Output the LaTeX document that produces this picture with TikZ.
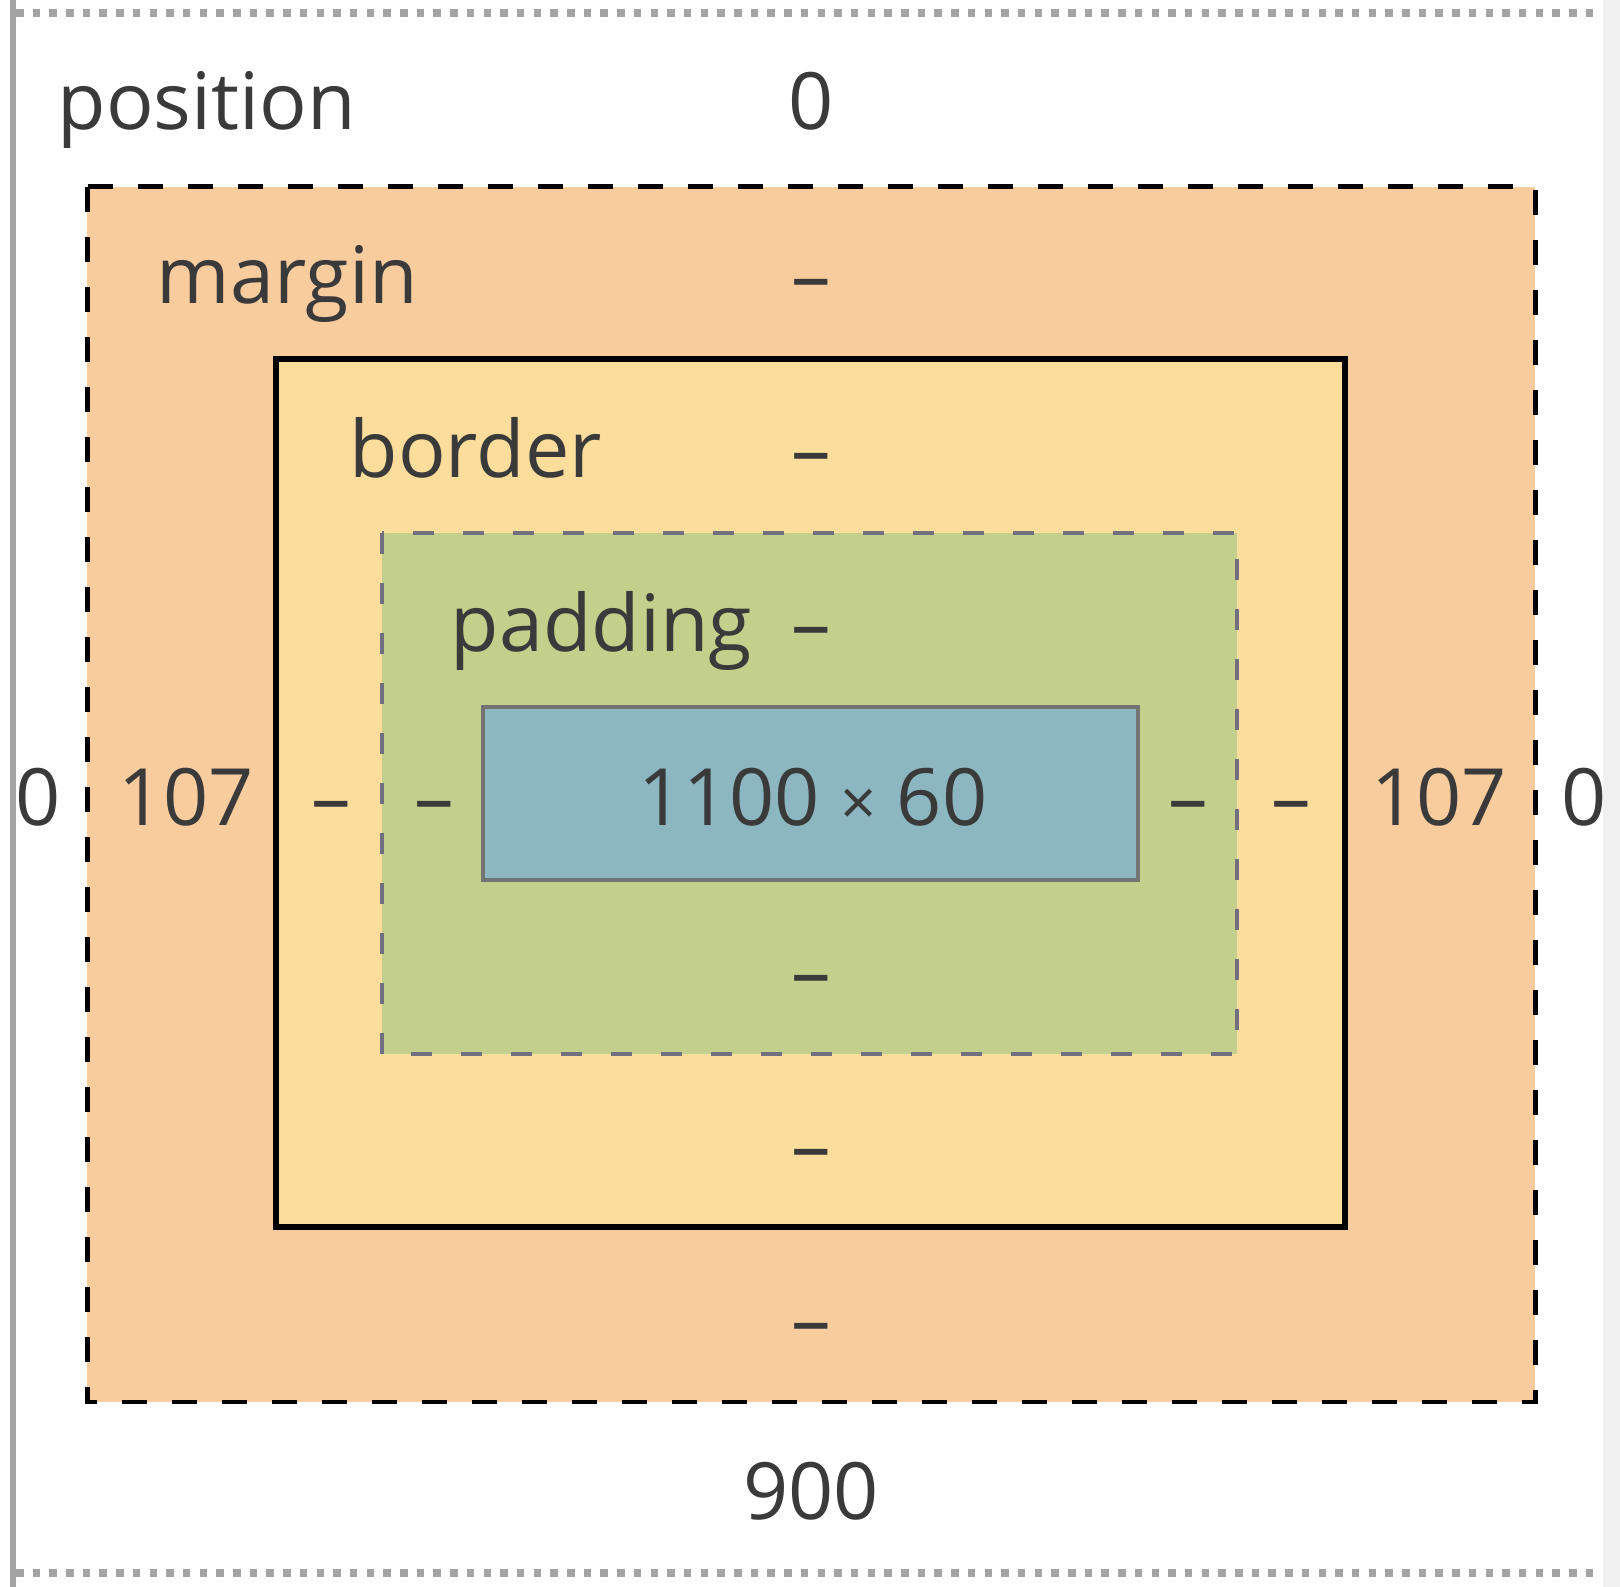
\documentclass[tikz,border=0pt]{standalone}
\usepackage{fontspec}
\setmainfont{Open Sans}
\definecolor{marginfill}{HTML}{F9CC9D}
\definecolor{borderfill}{HTML}{FCDD9B}
\definecolor{paddingfill}{HTML}{C3D08B}
\definecolor{contentfill}{HTML}{8CB6C0}
\definecolor{padline}{HTML}{707080}
\definecolor{txtgray}{HTML}{3A3A3A}
\definecolor{rulegray}{HTML}{A4A4A4}
\begin{document}
\begin{tikzpicture}[x=0.1mm, y=-0.1mm,
    lbl/.style={inner sep=0pt, text=txtgray, font=\fontsize{22.5}{27}\selectfont, anchor=base},
    lblw/.style={lbl, anchor=base west},
    dotrule/.style={rulegray, line width=0.75mm, dash pattern=on 0.75mm off 0.92mm}]
\useasboundingbox (0,0) rectangle (1620,1587);

    % frame of the panel
    \fill[black!6] (1603,0) rectangle (1620,1587);
    \draw[rulegray, line width=0.6mm] (13,0) -- (13,1587);
    \draw[dotrule] (16,13) -- (1598,13);
    \draw[dotrule] (16,1573) -- (1598,1573);

    % the four boxes
    \filldraw[color=black, fill=marginfill, line width=0.5mm, dash pattern=on 2.5mm off 2.5mm] (87,187) rectangle (1535,1402);
    \filldraw[color=black, fill=borderfill, line width=0.6mm] (276,359) rectangle (1345,1227);
    \filldraw[color=padline, fill=paddingfill, line width=0.4mm, dash pattern=on 2.1mm off 2.9mm] (382,533) rectangle (1237,1054);
    \filldraw[color=black!55, fill=contentfill, line width=0.4mm] (483,707) rectangle (1138,880);

    \node[lblw] (pos) at (57,130) {position};
    \node[lbl] (postop) at (811,130) {0};
    \node[lblw] (mar) at (156,304) {margin};
    \node[lbl] (martop) at (811,304) {–};
    \node[lblw] (bor) at (349,478) {border};
    \node[lbl] (bortop) at (811,478) {–};
    \node[lblw] (pad) at (450,652) {padding};
    \node[lbl] (padtop) at (811,652) {–};

    \node[lbl] (posleft) at (38,826) {0};
    \node[lbl] (marleft) at (186,826) {107};
    \node[lbl] (borleft) at (331,826) {–};
    \node[lbl] (padleft) at (434,826) {–};
    \node[lbl] (size) at (813,826) {1100 {\fontsize{18}{20}\selectfont ×} 60};
    \node[lbl] (padright) at (1188,826) {–};
    \node[lbl] (borright) at (1291,826) {–};
    \node[lbl] (marright) at (1439,826) {107};
    \node[lbl] (posright) at (1584,826) {0};

    \node[lbl] (padbot) at (811,1000) {–};
    \node[lbl] (borbot) at (811,1174) {–};
    \node[lbl] (marbot) at (811,1347) {–};
    \node[lbl] (posbot) at (811,1520) {900};

\end{tikzpicture}
\end{document}
